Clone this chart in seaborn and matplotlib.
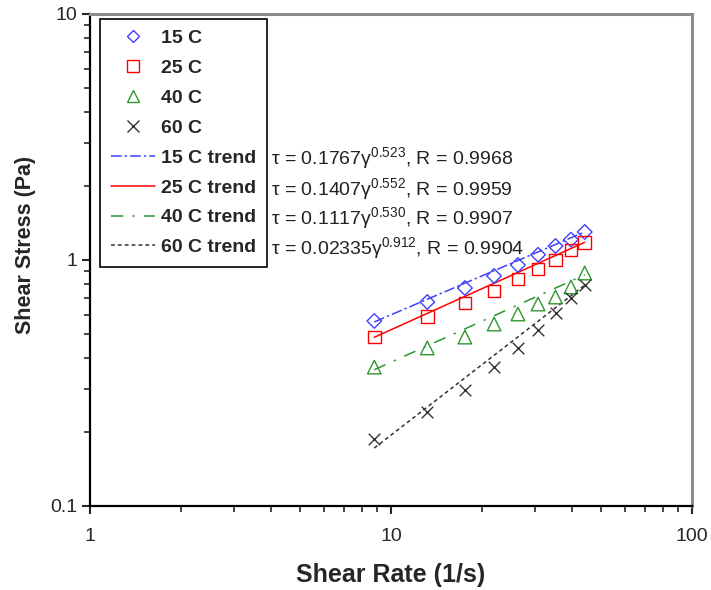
import numpy as np
import pandas as pd
import matplotlib
matplotlib.use("Agg")
import matplotlib.pyplot as plt
import seaborn as sns
from matplotlib.lines import Line2D

# data
shear_rate = [8.8, 13.2, 17.6, 22.0, 26.4, 30.8, 35.2, 39.6, 44.0]
stress_15 = [0.565, 0.675, 0.769, 0.861, 0.954, 1.05, 1.14, 1.21, 1.30]
stress_25 = [0.486, 0.587, 0.668, 0.748, 0.837, 0.919, 1.00, 1.098, 1.18]
stress_40 = [0.367, 0.439, 0.486, 0.549, 0.603, 0.662, 0.707, 0.777, 0.885]
stress_60 = [0.187, 0.241, 0.296, 0.367, 0.439, 0.519, 0.609, 0.701, 0.791]

temps = ["15 C", "25 C", "40 C", "60 C"]
trend_x = [8.8, 44.0]
trend_15 = [0.56, 1.30]
trend_25 = [0.485, 1.18]
trend_40 = [0.358, 0.87]
trend_60 = [0.172, 0.79]

equations = [
    ("0.1767", "0.523", "0.9968"),
    ("0.1407", "0.552", "0.9959"),
    ("0.1117", "0.530", "0.9907"),
    ("0.02335", "0.912", "0.9904"),
]

sns.set_style("ticks")
plt.rcParams['font.family'] = ['Liberation Sans', 'DejaVu Sans']
plt.rcParams['mathtext.fontset'] = 'custom'
plt.rcParams['mathtext.rm'] = 'Liberation Sans'
plt.rcParams['mathtext.it'] = 'Liberation Sans:italic'

colors = ["#3f3fff", "#ff0000", "#2e962e", "#333333"]
markers = ["D", "s", "^", "x"]
msizes = [55, 85, 95, 70]
dash_styles = [(7, 2, 1.5, 2), "", (8, 6, 1.5, 6), (2.5, 2)]

fig = plt.figure(figsize=(7.11, 5.90), dpi=100)
ax = fig.add_axes([0.1266, 0.1424, 0.8467, 0.8339])

stresses = [stress_15, stress_25, stress_40, stress_60]
trends = [trend_15, trend_25, trend_40, trend_60]

for i, t in enumerate(temps):
    tr = pd.DataFrame({"x": trend_x, "y": trends[i]})
    ls = "-" if dash_styles[i] == "" else (0, dash_styles[i])
    sns.lineplot(data=tr, x="x", y="y", ax=ax, color=colors[i], lw=1.1,
                 linestyle=ls, legend=False)

for i, t in enumerate(temps):
    df = pd.DataFrame({"x": shear_rate, "y": stresses[i]})
    if markers[i] == "x":
        sns.scatterplot(data=df, x="x", y="y", ax=ax, marker="x", s=msizes[i],
                        color=colors[i], linewidth=1.0, legend=False, zorder=3)
    else:
        sns.scatterplot(data=df, x="x", y="y", ax=ax, marker=markers[i], s=msizes[i],
                        facecolor="none", edgecolor=colors[i], linewidth=1.0,
                        legend=False, zorder=3)

ax.set_xscale("log")
ax.set_yscale("log")
ax.set_xlim(1, 100)
ax.set_ylim(0.1, 10)
ax.set_xticks([1, 10, 100])
ax.set_xticklabels(["1", "10", "100"])
ax.set_yticks([0.1, 1, 10])
ax.set_yticklabels(["0.1", "1", "10"])

ax.set_xlabel("Shear Rate (1/s)", fontsize=18, fontweight="bold", labelpad=13)
ax.set_ylabel("Shear Stress (Pa)", fontsize=15.5, fontweight="bold", labelpad=10)
ax.yaxis.label.set_y(0.53)

ax.tick_params(axis="both", which="major", length=6, width=1.5, labelsize=14,
               direction="out", top=False, right=False)
ax.tick_params(axis="x", which="major", pad=10)
ax.tick_params(axis="y", which="major", pad=3)
ax.tick_params(axis="both", which="minor", length=4, width=1.2,
               direction="out", top=False, right=False)

for side in ["left", "bottom"]:
    ax.spines[side].set_color("black")
    ax.spines[side].set_linewidth(1.6)
for side in ["top", "right"]:
    ax.spines[side].set_visible(True)
    ax.spines[side].set_color("#8c8c8c")
    ax.spines[side].set_linewidth(2.2)

handles = []
labels = []
for i, t in enumerate(temps):
    mfc = colors[i] if markers[i] == "x" else "none"
    handles.append(Line2D([], [], ls="none", marker=markers[i], color=colors[i],
                          mfc=mfc, mec=colors[i], ms=8 if markers[i] != "D" else 6.5,
                          mew=1.0))
    labels.append(t)
for i, t in enumerate(temps):
    ls = "-" if dash_styles[i] == "" else (0, dash_styles[i])
    handles.append(Line2D([], [], color=colors[i], lw=1.1, linestyle=ls))
    labels.append(t + " trend")

leg = ax.legend(handles, labels, loc="upper left", bbox_to_anchor=(0.0166, 0.990),
                frameon=True, fancybox=False, edgecolor="black", framealpha=1,
                prop={"weight": "bold", "size": 14}, handlelength=2.3,
                labelspacing=0.63, borderpad=0.55, handletextpad=0.3,
                borderaxespad=0)
leg.get_frame().set_linewidth(1.2)

eq_y = [0.707, 0.644, 0.585, 0.524]
for (a, b, r), yy in zip(equations, eq_y):
    ax.text(0.301, yy, "τ = " + a + "γ$^{" + b + "}$, R = " + r,
            transform=ax.transAxes, fontsize=14, color="#222222",
            va="center", ha="left")

fig.savefig("out.png", dpi=100)
